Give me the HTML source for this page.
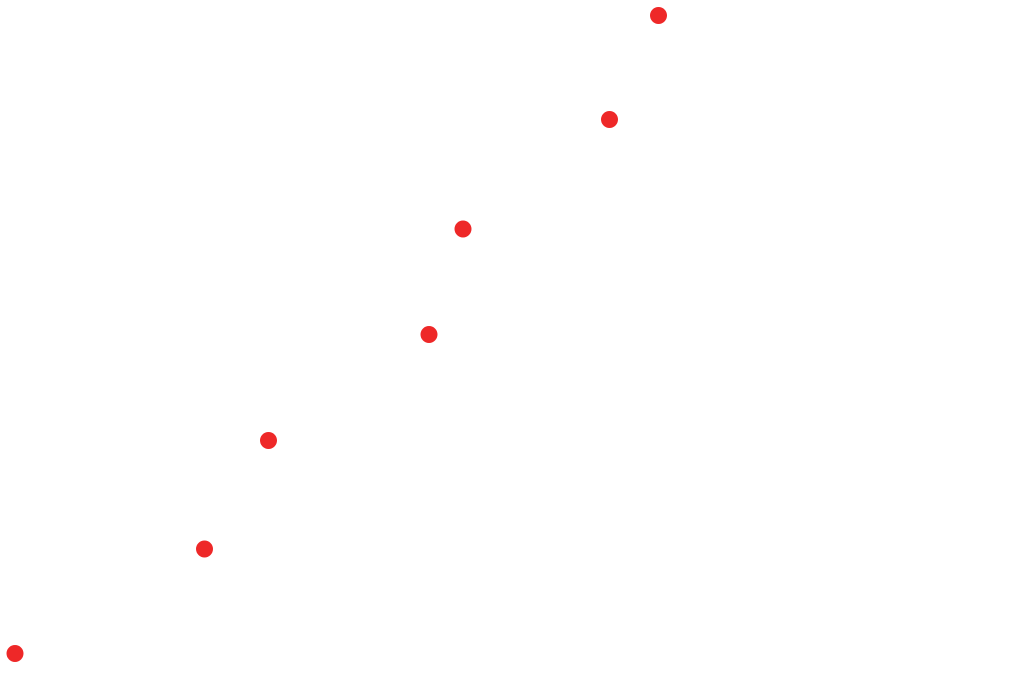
<!DOCTYPE html>
<html><head><meta charset="utf-8"><style>html,body{margin:0;padding:0;background:#fff;}svg{display:block}</style></head>
<body>
<svg width="1024" height="696" viewBox="0 0 1024 696" xmlns="http://www.w3.org/2000/svg">
<rect width="1024" height="696" fill="#fff"/>
<g fill="#ee2828">
<circle cx="658.5" cy="15.5" r="8.5"/>
<circle cx="609.5" cy="119.5" r="8.5"/>
<circle cx="463" cy="229" r="8.5"/>
<circle cx="429" cy="334.5" r="8.5"/>
<circle cx="268.5" cy="440.5" r="8.5"/>
<circle cx="204.5" cy="549" r="8.5"/>
<circle cx="15" cy="653.5" r="8.5"/>
</g>
</svg>
</body></html>
